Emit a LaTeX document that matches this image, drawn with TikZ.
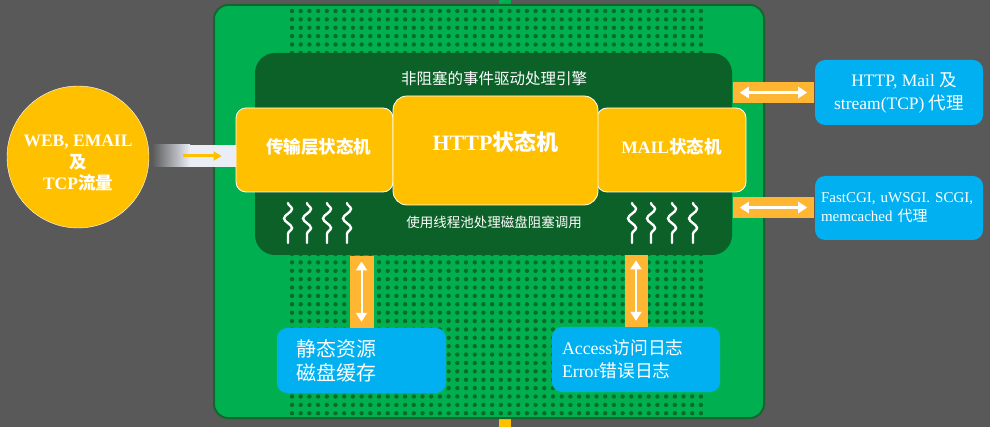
\documentclass[tikz,border=0pt]{standalone}
\usepackage{fontspec}
\setmainfont{Liberation Serif}
\newfontfamily\cjk{Noto Sans CJK SC}
\usetikzlibrary{decorations.pathmorphing,arrows.meta}
\definecolor{bggray}{RGB}{89,89,89}
\definecolor{board}{RGB}{0,176,80}
\definecolor{boardline}{RGB}{22,100,48}
\definecolor{dotgreen}{RGB}{9,108,40}
\definecolor{engine}{RGB}{11,97,40}
\definecolor{amber}{RGB}{255,192,0}
\definecolor{sky}{RGB}{0,176,240}
\definecolor{pipeorange}{RGB}{255,183,51}
\definecolor{pale}{RGB}{234,237,246}

\begin{document}
\begin{tikzpicture}[x=1pt,y=-1pt,
          machine/.style={fill=amber,draw=white,thick,rounded corners=10pt,text=white,font=\bfseries},
          module/.style={fill=sky,rounded corners=10pt,text=white,inner sep=0pt},
          pipe/.style={fill=pipeorange,inner sep=0pt},
          twoway/.style={white,line width=2.5pt,{Triangle[length=9pt,width=11pt]}-{Triangle[length=9pt,width=11pt]}},
          wave/.style={white,line width=2.4pt,line cap=round,decorate,decoration={snake,amplitude=4pt,segment length=19pt}},
        ]
        \fill[bggray] (0,0) rectangle (990,427);
        \useasboundingbox (0,0) rectangle (990,427);

        % board
        \fill[board] (499,0) rectangle (511,6);
        \fill[amber] (499,418) rectangle (511,427);
        \draw[fill=board,draw=boardline,line width=2pt,rounded corners=14pt] (214,5) rectangle (764,418);
        \foreach \i in {0,...,47}
          \foreach \j in {0,...,48}
            \fill[dotgreen] (292+\i*8.7, 11+\j*8.38) circle (2.2pt);

        % engine
        \fill[engine,rounded corners=20pt] (255,53) rectangle (732,255);
        \node[text=white,font=\cjk\fontsize{15.5}{18}\selectfont] (title) at (494,79) {非阻塞的事件驱动处理引擎};
        \node[text=white,font=\cjk\fontsize{13.5}{16}\selectfont] (pool) at (494,222) {使用线程池处理磁盘阻塞调用};
        \foreach \x in {288,307,327,347,632,651,672,693}
          \draw[wave] (\x,203) -- (\x,243);

        \node[machine,minimum width=157pt,minimum height=84pt,text depth=9pt,font=\bfseries\fontsize{17.5}{20}\selectfont] (tcpfsm) at (314.5,150) {\hspace{8pt}\cjk\bfseries 传输层状态机};
        \node[machine,minimum width=149pt,minimum height=84pt,text depth=9pt,font=\bfseries\fontsize{17.5}{20}\selectfont] (mailfsm) at (671.5,150) {MAIL{\cjk\bfseries 状态机}};
        \node[machine,rounded corners=14pt,minimum width=205pt,minimum height=109pt,text depth=19pt,font=\bfseries\fontsize{22}{26}\selectfont] (httpfsm) at (495.5,150.5) {HTTP{\cjk\bfseries 状态机}};

        % traffic in
        \node[circle,fill=amber,draw=white,minimum size=142pt] (traffic) at (78,157) {};
        \node[text=white,align=center,font=\bfseries\fontsize{17.5}{21.5}\selectfont,yshift=-6pt] (trafficlbl) at (traffic.center) {WEB, EMAIL\\{\cjk\bfseries 及}\\TCP{\cjk\bfseries 流量}};
        \shade[left color=bggray,right color=pale] (152,145) rectangle (190,167);
        \fill[pale] (190,145) rectangle (236,167);
        \coordinate (feedin) at (183,156);
        \draw[amber,line width=3pt,-{Triangle[length=8pt,width=9pt]}] (feedin) -- ([xshift=-14pt]tcpfsm.west |- feedin);

        % proxies
        \node[module,minimum width=168pt,minimum height=65pt,align=center,font=\fontsize{17.5}{23}\selectfont] (proxy) at (899,92.5) {\hspace{10pt}HTTP, Mail {\cjk 及}\\stream(TCP) {\cjk 代理}};
        \node[module,minimum width=168pt,minimum height=64pt,text width=156pt,align=left,font=\fontsize{15}{19}\selectfont] (fcgi) at (899,208) {FastCGI, uWSGI. SCGI,\\memcached {\cjk 代理}};
        \node[pipe,minimum width=81pt,minimum height=21pt] (proxypipe) at (773.5,92.5) {};
        \node[pipe,minimum width=81pt,minimum height=21pt] (fcgipipe) at (773.5,207.5) {};
        \draw[twoway] ([xshift=7pt]proxypipe.west) -- ([xshift=-7pt]proxypipe.east);
        \draw[twoway] ([xshift=7pt]fcgipipe.west) -- ([xshift=-7pt]fcgipipe.east);

        % disk
        \node[module,minimum width=169pt,minimum height=65pt,text width=131pt,align=left,font=\cjk\fontsize{20}{24}\selectfont] (cache) at (361.5,360.5) {静态资源\\磁盘缓存};
        \node[module,minimum width=168pt,minimum height=65pt,text width=148pt,align=left,font=\fontsize{17.8}{23}\selectfont] (logs) at (636,359.5) {Access{\cjk 访问日志}\\Error{\cjk 错误日志}};
        \node[pipe,minimum width=24pt,minimum height=72pt,anchor=south] (cachepipe) at (cache.north) {};
        \node[pipe,minimum width=23pt,minimum height=72pt,anchor=south] (logpipe) at (logs.north) {};
        \draw[twoway,line width=2pt] ([yshift=-6pt]cachepipe.north) -- ([yshift=6pt]cachepipe.south);
        \draw[twoway,line width=2pt] ([yshift=-6pt]logpipe.north) -- ([yshift=6pt]logpipe.south);
      \end{tikzpicture}
\end{document}
